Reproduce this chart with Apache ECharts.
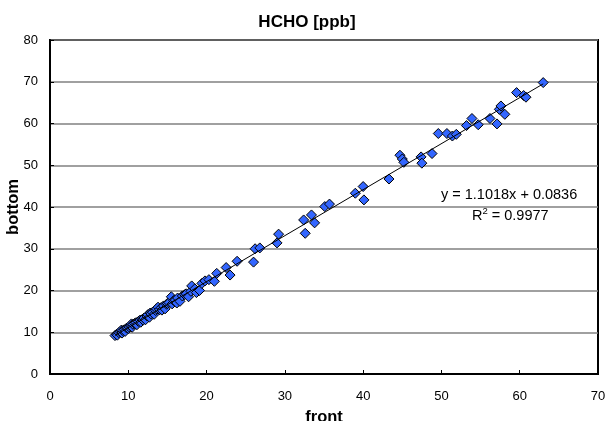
<!DOCTYPE html>
<html>
<head>
<meta charset="utf-8">
<script src="https://cdn.jsdelivr.net/npm/echarts@6/dist/echarts.min.js"></script>
<style>html,body{margin:0;padding:0;background:#fff}#c{width:608px;height:421px}</style>
</head>
<body>
<div id="c"></div>
<script>
var titleText = 'HCHO [ppb]';
var xName = 'front';
var yName = 'bottom';
var slope = 1.1018;
var intercept = 0.0836;
var r2Text = '0.9977';
var xTicks = [0, 10, 20, 30, 40, 50, 60, 70];
var yTicks = [0, 10, 20, 30, 40, 50, 60, 70, 80];
var frontValues = [8.3,8.5,8.6,8.8,9.0,9.1,9.2,9.3,9.5,9.6,9.8,10.0,10.1,10.3,10.4,10.5,10.6,10.8,11.0,11.1,11.3,11.5,11.6,11.8,11.9,12.0,12.2,12.4,12.5,12.7,12.8,12.9,13.1,13.3,13.5,13.6,13.8,14.0,14.2,14.3,14.5,14.7,14.9,15.0,15.2,15.5,15.6,15.8,16.0,16.2,16.3,16.6,16.9,17.2,17.4,17.7,18.0,18.1,18.5,18.7,19.1,19.4,19.8,20.3,21.0,21.3,22.5,23.0,23.9,26.0,26.2,26.8,29.0,29.2,32.4,32.6,33.4,33.8,35.1,35.7,39.0,40.0,40.1,43.3,44.7,45.0,45.2,47.4,47.5,48.8,49.6,50.7,51.4,51.9,53.2,53.9,54.7,56.2,57.1,57.4,57.6,58.1,59.6,60.5,60.8,63.0];
var bottomValues = [9.2,9.5,9.3,9.9,10.1,10.5,9.8,10.4,10.6,10.2,11.0,10.9,11.3,11.5,12.0,11.2,11.9,12.1,12.3,11.8,12.6,12.9,12.4,13.1,12.9,13.4,13.0,13.9,14.2,13.6,14.6,14.4,14.8,14.3,15.2,15.6,16.0,15.4,15.9,15.3,16.3,15.6,16.7,16.9,17.1,18.5,16.8,17.6,17.7,17.0,18.2,17.4,18.7,19.0,19.2,18.5,19.8,21.1,20.4,19.5,20.0,21.7,22.3,22.6,22.2,24.1,25.5,23.7,27.0,26.8,30.0,30.2,31.4,33.5,36.9,33.7,38.1,36.2,40.1,40.7,43.3,44.9,41.7,46.7,52.4,51.5,50.7,52.0,50.5,52.8,57.6,57.6,57.0,57.4,59.5,61.2,59.7,61.2,59.9,63.4,64.2,62.2,67.4,66.7,66.3,69.8];

var pts = frontValues.map(function (v, i) { return [v, bottomValues[i]]; });
var xmin = Math.min.apply(null, frontValues), xmax = Math.max.apply(null, frontValues);
var trend = [[xmin, slope * xmin + intercept], [xmax, slope * xmax + intercept]];

var chart = echarts.init(document.getElementById('c'), null, {renderer: 'canvas'});
var font = '"Liberation Sans", Arial, sans-serif';
chart.setOption({
  animation: false,
  backgroundColor: '#fff',
  title: {text: titleText, left: 302, top: 9, textAlign: 'center',
    textStyle: {fontFamily: font, fontSize: 17, fontWeight: 'bold', color: '#000'}},
  grid: {left: 50, right: 10, top: 40, bottom: 47, containLabel: false, outerBoundsMode: 'none',
    show: true, borderColor: '#000', borderWidth: 2, backgroundColor: 'transparent'},
  xAxis: {type: 'value', min: xTicks[0], max: xTicks[xTicks.length - 1], interval: 10,
    name: xName, nameLocation: 'middle', nameGap: 35, nameMoveOverlap: false,
    nameTextStyle: {fontFamily: font, fontSize: 16.5, fontWeight: 'bold', color: '#000'},
    axisLine: {show: true, lineStyle: {color: '#000', width: 2}},
    axisTick: {show: true, inside: true, length: 4, lineStyle: {color: '#000'}},
    axisLabel: {fontFamily: font, fontSize: 13, color: '#000', margin: 16},
    splitLine: {show: false}},
  yAxis: {type: 'value', min: yTicks[0], max: yTicks[yTicks.length - 1], interval: 10,
    name: yName, nameLocation: 'middle', nameGap: 28, nameRotate: 90, nameMoveOverlap: false,
    nameTextStyle: {fontFamily: font, fontSize: 16.5, fontWeight: 'bold', color: '#000'},
    axisLine: {show: true, lineStyle: {color: '#000', width: 2}},
    axisTick: {show: true, inside: true, length: 4, lineStyle: {color: '#000'}},
    axisLabel: {fontFamily: font, fontSize: 13, color: '#000', margin: 12},
    splitLine: {show: true, lineStyle: {color: '#808080', width: 1.5}}},
  series: [
    {type: 'scatter', data: pts, symbol: 'diamond', symbolSize: 10,
      itemStyle: {color: '#3366FF', borderColor: '#000', borderWidth: 1, opacity: 1}, z: 3},
    {type: 'line', data: trend, symbol: 'none', lineStyle: {color: '#000', width: 1}, z: 4, silent: true}
  ],
  graphic: [
    {type: 'text', x: 441, y: 195, style: {text: 'y = ' + slope + 'x + ' + intercept, fontFamily: font, fontSize: 14.5, fill: '#000', verticalAlign: 'middle'}},
    {type: 'text', x: 472, y: 215, style: {text: '{a|R}{s|2}{a| = ' + r2Text + '}', fontFamily: font, fontSize: 14.5, fill: '#000', verticalAlign: 'middle',
      rich: {a: {fontFamily: font, fontSize: 14.5, fill: '#000', verticalAlign: 'bottom'}, s: {fontFamily: font, fontSize: 9.5, fill: '#000', verticalAlign: 'top', padding: [0, 0, 7, 0]}}}}
  ]
});
</script>
</body>
</html>
